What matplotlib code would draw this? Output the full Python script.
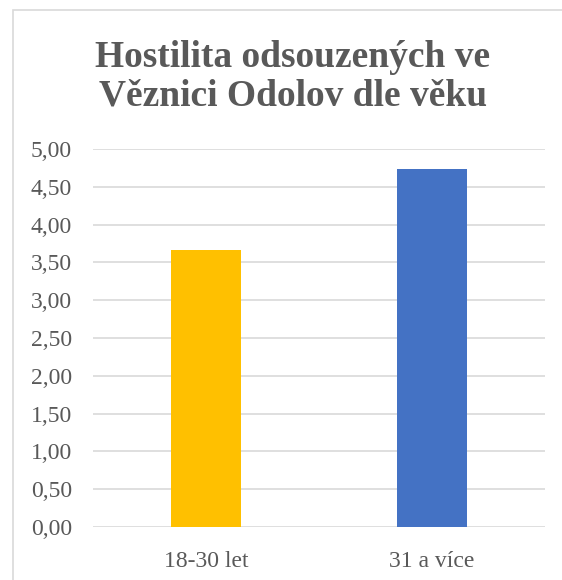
import matplotlib.pyplot as plt
from matplotlib.patches import Rectangle

# data
categories = ["18-30 let", "31 a více"]
values = [3.66, 4.74]
colors = ["#FFC000", "#4472C4"]
title_lines = ["Hostilita odsouzených ve", "Věznici Odolov dle věku"]

plt.rcParams["font.family"] = ["Liberation Serif", "DejaVu Serif"]

fig = plt.figure(figsize=(5.62, 5.8), dpi=100)
ax = fig.add_axes([93 / 562, 1 - 527 / 580, 452 / 562, 378 / 580])

ax.bar(range(len(categories)), values, width=0.314, color=colors, zorder=3)
ax.set_xlim(-0.5, 1.5)
ax.set_ylim(0, 5)
ax.set_yticks([i * 0.5 for i in range(11)])
ax.set_yticklabels([f"{i * 0.5:.2f}".replace(".", ",") for i in range(11)])
ax.set_xticks(range(len(categories)))
ax.set_xticklabels(categories)
ax.tick_params(axis="both", length=0, labelsize=17, labelcolor="#595959")
ax.tick_params(axis="y", pad=15)
ax.tick_params(axis="x", pad=17)
ax.grid(axis="y", color="#D9D9D9", linewidth=1.2, zorder=0)
for s in ax.spines.values():
    s.set_visible(False)

# title, one line at a time
for i, line in enumerate(title_lines):
    fig.text(293 / 562, 1 - (67 + 38 * i) / 580, line, ha="center", va="baseline",
             fontsize=27, fontweight="bold", color="#595959")

# chart area border
fig.patches.append(Rectangle((13 / 562, -0.1), 1.2, 1 - 10 / 580 + 0.1,
                             transform=fig.transFigure, fill=False,
                             edgecolor="#D9D9D9", linewidth=1.2))

fig.savefig("out.png", dpi=100)
